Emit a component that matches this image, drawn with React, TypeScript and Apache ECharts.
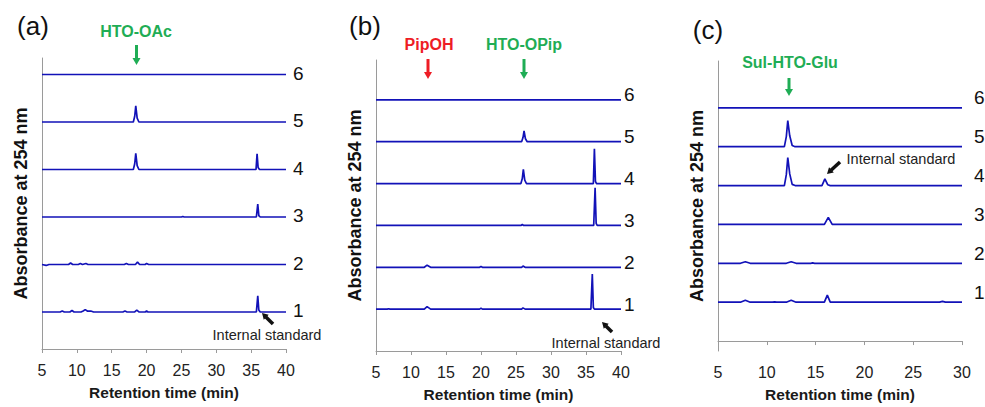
import React, { useEffect, useRef } from "react";
import * as echarts from "echarts";

// ---------- Data: [retention time (min), absorbance (a.u., relative)] ----------
// Panel (a)
const a1 = [[5, 0], [7.6, 0], [7.9, 0.02], [8.2, 0], [9.0, 0], [9.3, 0.03], [9.6, 0], [10.6, 0], [10.9, 0.02], [11.2, 0.05], [11.5, 0.02], [12.0, 0.02], [12.4, 0], [16.6, 0], [16.9, 0.02], [17.2, 0], [18.3, 0], [18.6, 0.04], [18.9, 0], [19.8, 0], [20.0, 0.02], [20.2, 0], [35.75, 0], [35.95, 0.34], [36.1, 0.04], [36.3, 0], [40, 0]];
const a2 = [[5, 0], [5.6, -0.02], [6.0, 0], [8.8, 0], [9.1, 0.03], [9.4, 0], [10.2, 0], [10.5, 0.02], [10.8, 0], [11.3, 0.02], [11.6, 0], [16.8, 0], [17.1, 0.02], [17.4, 0], [18.4, 0], [18.7, 0.05], [19.0, 0], [19.8, 0], [20.0, 0.02], [20.3, 0], [40, 0]];
const a3 = [[5, 0], [25.0, 0], [25.2, 0.01], [25.4, 0], [35.75, 0], [35.95, 0.27], [36.1, 0.03], [36.3, 0], [40, 0]];
const a4 = [[5, 0], [18.1, 0], [18.3, 0.12], [18.45, 0.34], [18.65, 0.08], [18.9, 0], [35.7, 0], [35.85, 0.33], [36.0, 0.04], [36.2, 0], [40, 0]];
const a5 = [[5, 0], [18.1, 0], [18.3, 0.12], [18.45, 0.34], [18.65, 0.08], [18.9, 0], [40, 0]];
const a6 = [[5, 0], [40, 0]];

// Panel (b)
const b1 = [[5, 0], [6.6, 0], [6.8, 0.01], [7.0, 0], [11.9, 0], [12.3, 0.06], [12.8, 0], [19.8, 0], [20.0, 0.02], [20.2, 0], [25.8, 0], [26.0, 0.03], [26.3, 0], [35.7, 0], [35.9, 0.84], [36.05, 0.04], [36.2, 0], [40, 0]];
const b2 = [[5, 0], [11.9, 0], [12.3, 0.05], [12.8, 0], [19.8, 0], [20.0, 0.02], [20.2, 0], [25.8, 0], [26.0, 0.03], [26.3, 0], [40, 0]];
const b3 = [[5, 0], [25.7, 0], [25.9, 0.02], [26.1, 0], [36.1, 0], [36.3, 0.9], [36.45, 0.05], [36.6, 0], [40, 0]];
const b4 = [[5, 0], [25.7, 0], [25.9, 0.12], [26.05, 0.34], [26.25, 0.08], [26.5, 0], [36.05, 0], [36.2, 0.83], [36.35, 0.05], [36.5, 0], [40, 0]];
const b5 = [[5, 0], [25.8, 0], [26.0, 0.1], [26.15, 0.26], [26.35, 0.07], [26.6, 0], [40, 0]];
const b6 = [[5, 0], [40, 0]];

// Panel (c)
const c1 = [[5, 0], [7.3, 0], [7.8, 0.05], [8.3, 0], [10.6, 0], [10.8, 0.01], [11.0, 0], [12.0, 0], [12.5, 0.05], [13.0, 0], [15.9, 0], [16.2, 0.18], [16.5, 0], [27.7, 0], [28.0, 0.02], [28.3, 0], [30, 0]];
const c2 = [[5, 0], [7.3, 0], [7.8, 0.04], [8.3, 0], [12.0, 0], [12.5, 0.04], [13.0, 0], [14.5, 0], [14.7, 0.01], [14.9, 0], [30, 0]];
const c3 = [[5, 0], [15.9, 0], [16.3, 0.18], [16.7, 0], [30, 0]];
const c4 = [[5, 0], [11.8, 0], [12.0, 0.28], [12.15, 0.72], [12.35, 0.3], [12.6, 0.03], [12.9, 0], [15.65, 0], [15.95, 0.17], [16.25, 0.02], [16.5, 0], [30, 0]];
const c5 = [[5, 0], [11.8, 0], [12.0, 0.26], [12.15, 0.67], [12.35, 0.28], [12.6, 0.03], [12.9, 0], [30, 0]];
const c6 = [[5, 0], [30, 0]];

const tracesA = [a1, a2, a3, a4, a5, a6];
const tracesB = [b1, b2, b3, b4, b5, b6];
const tracesC = [c1, c2, c3, c4, c5, c6];
const traceNames = ["1", "2", "3", "4", "5", "6"];

const rangeA = [5, 40];
const rangeB = [5, 40];
const rangeC = [5, 30];

const compoundLabels = ["HTO-OAc", "PipOH", "HTO-OPip", "Sul-HTO-Glu"];
const panelLetters = ["(a)", "(b)", "(c)"];
const internalStandard = "Internal standard";

// ---------- Styling ----------
const FONT = "'Liberation Sans', Arial, Helvetica, sans-serif";
const LINE_COLOR = "#1212b8";
const AXIS_COLOR = "#9a9a9a";
const GREEN = "#1fad55";
const RED = "#ee1c25";

function arrow(tipX: number, tipY: number, tailX: number, tailY: number, color: string, w: number, headLen: number, headW: number) {
  const dx = tipX - tailX;
  const dy = tipY - tailY;
  const len = Math.sqrt(dx * dx + dy * dy);
  const ux = dx / len;
  const uy = dy / len;
  const bx = tipX - ux * headLen;
  const by = tipY - uy * headLen;
  const px = -uy;
  const py = ux;
  return [
    {
      type: "line",
      shape: { x1: tailX, y1: tailY, x2: bx + ux * 0.5, y2: by + uy * 0.5 },
      style: { stroke: color, lineWidth: w },
      silent: true,
    },
    {
      type: "polygon",
      shape: {
        points: [
          [tipX, tipY],
          [bx + px * headW / 2, by + py * headW / 2],
          [bx - px * headW / 2, by - py * headW / 2],
        ],
      },
      style: { fill: color },
      silent: true,
    },
  ];
}

function text(x: number, y: number, s: string, opts: any) {
  return {
    type: "text",
    x,
    y,
    silent: true,
    style: {
      text: s,
      fontFamily: FONT,
      textAlign: "center",
      textVerticalAlign: "middle",
      ...opts,
    },
  };
}

export default function App() {
  const ref = useRef<HTMLDivElement>(null);

  useEffect(() => {
    if (!ref.current) return;
    const chart = echarts.init(ref.current, null, { renderer: "svg" });

    const grids = [
      { left: 42, top: 58, width: 244, height: 291 },
      { left: 376, top: 60, width: 245, height: 292 },
      { left: 718, top: 61, width: 244, height: 291 },
    ];
    const yRanges = [
      [0.221, 6.347],
      [0, 6.952],
      [-0.256, 7.205],
    ];
    const xRanges = [rangeA, rangeB, rangeC];
    const labelTweaks = [
      { distance: 7, offset: [0, -1] },
      { distance: 3, offset: [0, -5] },
      { distance: 12, offset: [0, -10] },
    ];

    const xAxis = xRanges.map((r, i) => ({
      type: "value",
      gridIndex: i,
      min: r[0],
      max: r[1],
      interval: 5,
      name: "Retention time (min)",
      nameLocation: "middle",
      nameGap: 35,
      nameTextStyle: { fontFamily: FONT, fontSize: 15.5, fontWeight: "bold", color: "#1a1a1a" },
      axisLine: { show: true, lineStyle: { color: AXIS_COLOR, width: 1 } },
      axisTick: { show: true, inside: false, length: 4, lineStyle: { color: AXIS_COLOR } },
      axisLabel: { fontFamily: FONT, fontSize: 16, color: "#222", margin: 13 },
      splitLine: { show: false },
    }));

    const yAxis = yRanges.map((r, i) => ({
      type: "value",
      gridIndex: i,
      min: r[0],
      max: r[1],
      name: "Absorbance at 254 nm",
      nameLocation: "middle",
      nameGap: 12,
      nameRotate: 90,
      nameTextStyle: { fontFamily: FONT, fontSize: 18, fontWeight: "bold", color: "#111" },
      axisLine: { show: true, lineStyle: { color: AXIS_COLOR, width: 1 } },
      axisTick: { show: false },
      axisLabel: { show: false },
      splitLine: { show: false },
    }));

    const series: any[] = [];
    [tracesA, tracesB, tracesC].forEach((traces, p) => {
      traces.forEach((pts, k) => {
        const offset = k + 1;
        series.push({
          type: "line",
          name: `${panelLetters[p]} ${traceNames[k]}`,
          xAxisIndex: p,
          yAxisIndex: p,
          data: pts.map(([t, v]) => [t, v + offset]),
          showSymbol: false,
          symbol: "none",
          smooth: false,
          lineStyle: { color: LINE_COLOR, width: 1.7 },
          endLabel: {
            show: true,
            formatter: traceNames[k],
            distance: labelTweaks[p].distance,
            offset: labelTweaks[p].offset,
            fontFamily: FONT,
            fontSize: 19,
            color: "#111",
          },
          emphasis: { disabled: true },
        });
      });
    });

    const graphic: any[] = [
      text(33, 26, panelLetters[0], { fontSize: 26, fill: "#111" }),
      text(365, 26, panelLetters[1], { fontSize: 26, fill: "#111" }),
      text(708, 30, panelLetters[2], { fontSize: 26, fill: "#111" }),

      text(136, 31, compoundLabels[0], { fontSize: 16, fontWeight: "bold", fill: GREEN }),
      ...arrow(136.5, 65, 136.5, 45, GREEN, 3, 7, 8),

      text(429, 44, compoundLabels[1], { fontSize: 16, fontWeight: "bold", fill: RED }),
      ...arrow(428, 79, 428, 59, RED, 3, 7, 8),
      text(524, 44, compoundLabels[2], { fontSize: 16, fontWeight: "bold", fill: GREEN }),
      ...arrow(524, 79, 524, 59, GREEN, 3, 7, 8),

      text(790, 62, compoundLabels[3], { fontSize: 16, fontWeight: "bold", fill: GREEN }),
      ...arrow(789, 96, 789, 78, GREEN, 3, 7, 8),

      text(267, 335, internalStandard, { fontSize: 14.5, fill: "#222" }),
      ...arrow(262, 313, 273, 324, "#111", 3.5, 6, 7),
      text(606, 343, internalStandard, { fontSize: 14.5, fill: "#222" }),
      ...arrow(602, 322, 612, 332, "#111", 3.5, 6, 7),
      text(901, 159, internalStandard, { fontSize: 14.5, fill: "#222" }),
      ...arrow(827, 174, 840, 162, "#111", 3.5, 6, 7),
    ];

    chart.setOption({
      animation: false,
      backgroundColor: "#ffffff",
      grid: grids,
      xAxis,
      yAxis,
      series,
      graphic,
    });

    return () => chart.dispose();
  }, []);

  return (
    <div
      ref={ref}
      style={{ position: "absolute", left: 0, top: 0, width: 985, height: 407 }}
    />
  );
}
